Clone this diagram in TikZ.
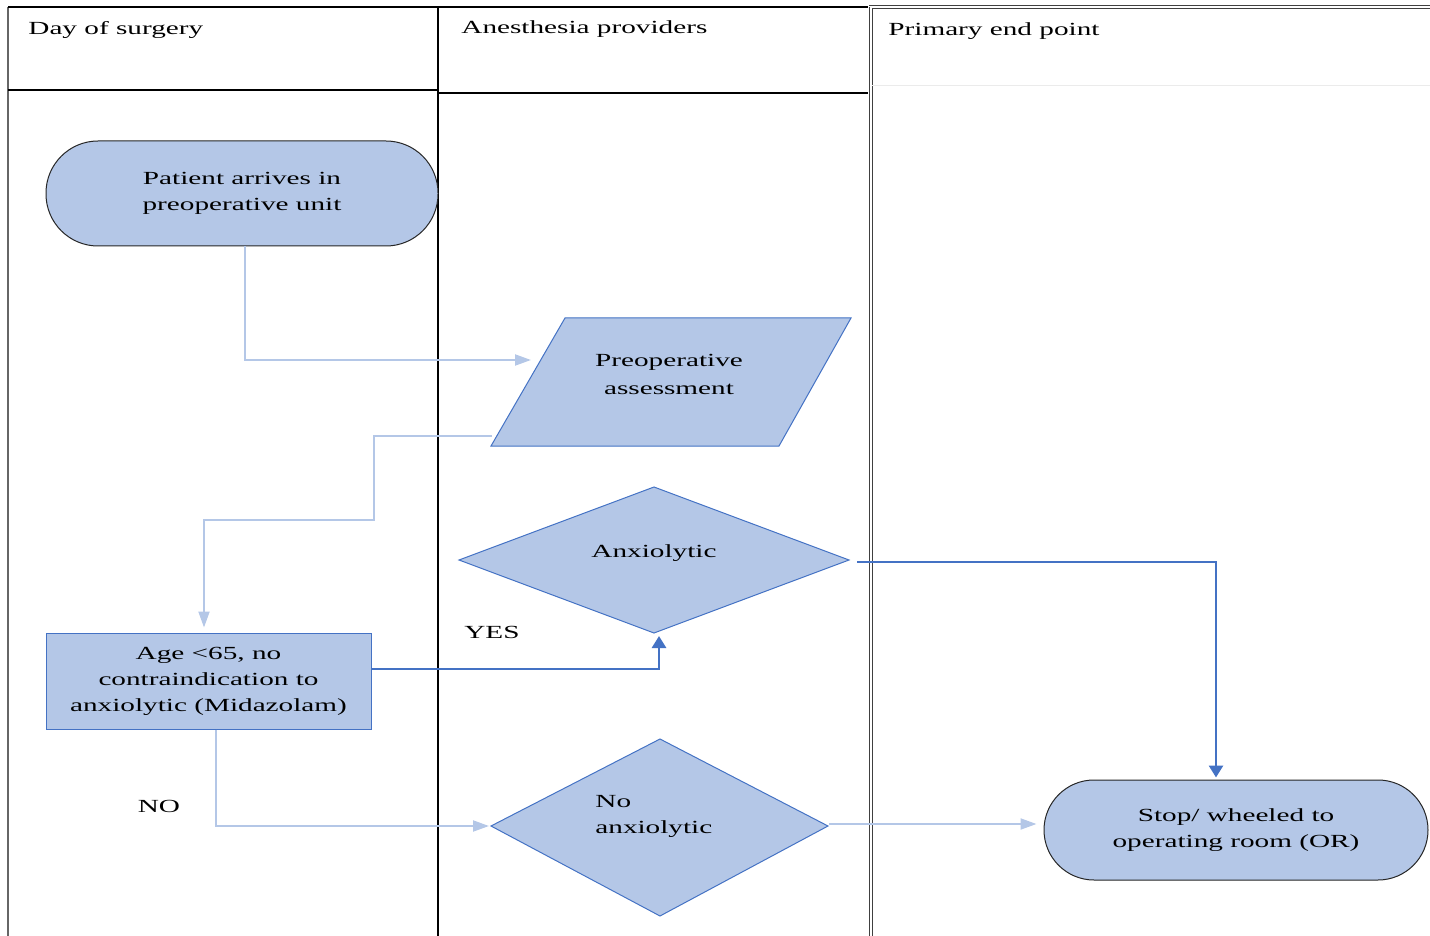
\documentclass[tikz,border=0pt]{standalone}
\usepackage{fontspec}
\setmainfont{Liberation Serif}[FakeStretch=1.58]
\usetikzlibrary{arrows.meta}
\definecolor{fillb}{HTML}{B4C7E7}
\definecolor{lineb}{HTML}{4472C4}
\begin{document}
\begin{tikzpicture}[x=0.5pt,y=-0.5pt,
  font=\fontsize{9.25pt}{13pt}\selectfont,
  shapebox/.style={fill=fillb, draw=lineb, line width=0.5pt},
  termbox/.style={fill=fillb, draw=black!85, line width=0.5pt, align=center, inner sep=0pt},
  lbl/.style={align=center, inner sep=0pt},
  lite/.style={draw=fillb, line width=1pt, -{Triangle[length=8pt,width=5.5pt]}},
  dark/.style={draw=lineb, line width=1.4pt, -{Triangle[length=6pt,width=7pt]}},
  lane/.style={draw=black, line width=0.75pt}]
\useasboundingbox (0,0) rectangle (1430,936);
% swimlanes
\draw[draw=black!60, line width=0.8pt] (8,7) -- (8,936);
\draw[lane] (8,7) -- (438,7);
\draw[lane] (8,90) -- (438,90);
\draw[lane] (438,7) -- (438,936);
\draw[lane] (438,7) -- (868,7);
\draw[lane] (438,93) -- (868,93);
\draw[draw=black!75, line width=0.5pt] (869,7) -- (869,936);
\draw[draw=black!75, line width=0.5pt] (872,9) -- (872,936);
\draw[draw=black!75, line width=0.5pt] (869,6) -- (1430,6);
\draw[draw=black!75, line width=0.5pt] (872,9) -- (1430,9);
\draw[draw=black!8, line width=0.5pt] (872,86) -- (1430,86);
\node[anchor=base west, inner sep=0pt] (h1) at (28,35) {Day of surgery};
\node[anchor=base west, inner sep=0pt] (h2) at (461,34) {Anesthesia providers};
\node[anchor=base west, inner sep=0pt] (h3) at (888,36) {Primary end point};
% shapes
\node[termbox, rectangle, rounded corners=26pt, minimum width=196pt, minimum height=52.5pt]
  (arrive) at (242,193.5) {Patient arrives in\\preoperative unit};
\draw[shapebox] (565,318) coordinate (pa-nw) -- (851,318) coordinate (pa-ne)
  -- (779,446) coordinate (pa-se) -- (491,446) coordinate (pa-sw) -- cycle;
\node[lbl, font=\fontsize{9.25pt}{14pt}\selectfont] (pat) at (669,374) {Preoperative\\assessment};
\coordinate (pa-in) at (531,360);
\coordinate (pa-out) at (492,436);
\draw[shapebox] (459,560) coordinate (ax-w) -- (654,487) coordinate (ax-n)
  -- (849,560) coordinate (ax-e) -- (654,633) coordinate (ax-s) -- cycle;
\node[lbl] (axt) at (654,553) {Anxiolytic};
\node[shapebox, rectangle, align=center, inner sep=0pt, minimum width=162.5pt, minimum height=48pt]
  (age) at (208.5,681) {Age <65, no\\contraindication to\\anxiolytic (Midazolam)};
\draw[shapebox] (491,826) coordinate (na-w) -- (660,739) coordinate (na-n)
  -- (828,826) coordinate (na-e) -- (660,916) coordinate (na-s) -- cycle;
\node[lbl, align=left, anchor=west] (nat) at (595,816) {No\\anxiolytic};
\node[termbox, rectangle, rounded corners=25pt, minimum width=192pt, minimum height=50pt]
  (stop) at (1236,830) {Stop/ wheeled to\\operating room (OR)};
% labels
\node[lbl] (yes) at (492,632) {YES};
\node[lbl] (no) at (159,806) {NO};
% connectors
\draw[lite] ([xshift=1.5pt]arrive.south) |- (pa-in);
\draw[lite] (pa-out) -| (374,520) -| ([xshift=-2.25pt,yshift=2.5pt]age.north);
\draw[dark] ([yshift=6pt]age.east) -| ([xshift=2.5pt,yshift=-1.5pt]ax-s);
\draw[dark] ([xshift=4pt,yshift=-1pt]ax-e) -| ([xshift=-10pt,yshift=1pt]stop.north);
\draw[lite] ([xshift=3.75pt]age.south) |- ([xshift=-1pt]na-w);
\draw[lite] ([xshift=0.5pt,yshift=1pt]na-e) -- ([xshift=-3.5pt,yshift=3pt]stop.west);
\end{tikzpicture}
\end{document}
